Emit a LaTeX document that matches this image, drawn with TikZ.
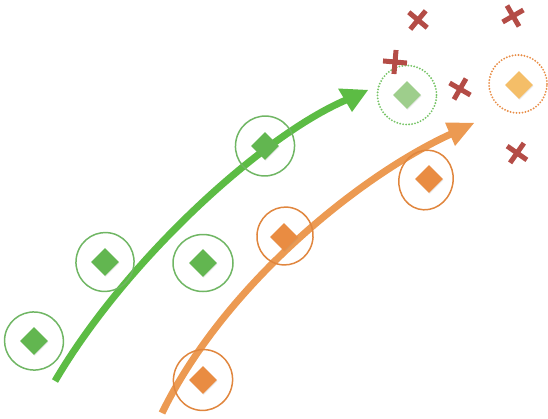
\documentclass[tikz,border=0pt]{standalone}
\usetikzlibrary{shapes.geometric,shadows}

\definecolor{grnArrow}{RGB}{92,188,68}
\definecolor{grnGem}{RGB}{98,182,80}
\definecolor{grnRing}{RGB}{112,182,100}
\definecolor{grnPale}{RGB}{158,206,140}
\definecolor{grnDots}{RGB}{120,196,104}
\definecolor{orgArrow}{RGB}{236,154,82}
\definecolor{orgGem}{RGB}{233,140,66}
\definecolor{orgRing}{RGB}{224,134,62}
\definecolor{orgPale}{RGB}{244,190,104}
\definecolor{orgDots}{RGB}{232,142,72}
\definecolor{redMark}{RGB}{180,76,70}

\begin{document}
\begin{tikzpicture}[x=1pt,y=-1pt,
  gem/.style={diamond,aspect=1,inner sep=0pt,minimum width=28pt,minimum height=28pt,
    drop shadow={shadow xshift=0.8pt,shadow yshift=-1pt,opacity=0.15}},
  ring/.style={ellipse,inner sep=0pt,line width=1.5pt},
  dotring/.style={ellipse,inner sep=0pt,line width=2.1pt,line cap=round,dash pattern=on 0pt off 3pt},
  shaft/.style={line width=7pt},
  xstroke/.style={draw=redMark,line width=5pt},
]
\useasboundingbox (0,0) rectangle (548,418);

% ---- arrows (shafts end at the base of the heads) ----
\coordinate (gS) at (55,381);
\coordinate (gB) at (346,100);
\coordinate (gT) at (368,90);
\coordinate (gL) at (338,88.5);
\coordinate (gR) at (352,112);
\draw[shaft,grnArrow] (gS) .. controls (126,260) and (262,136) .. (gB);
\fill[grnArrow] (gT) -- (gL) -- (gR) -- cycle;

\coordinate (oS) at (162,413);
\coordinate (oB) at (451,134);
\coordinate (oT) at (474,123);
\coordinate (oL) at (445,122.5);
\coordinate (oR) at (455,146);
\draw[shaft,orgArrow] (oS) .. controls (224,286) and (359,176) .. (oB);
\fill[orgArrow] (oT) -- (oL) -- (oR) -- cycle;

% ---- rings around the samples ----
\node[ring,draw=grnRing,minimum width=59pt,minimum height=58pt,rotate=-15] (gr1) at (34,341) {};
\node[ring,draw=grnRing,minimum width=58pt,minimum height=59pt,rotate=-15] (gr2) at (105,262) {};
\node[ring,draw=grnRing,minimum width=60pt,minimum height=57pt] (gr3) at (203,263) {};
\node[ring,draw=grnRing,minimum width=59pt,minimum height=60pt,rotate=-15] (gr4) at (265,146) {};
\node[ring,draw=orgRing,minimum width=59pt,minimum height=61pt,rotate=-15] (or1) at (203,380) {};
\node[ring,draw=orgRing,minimum width=56pt,minimum height=58pt,rotate=-15] (or2) at (285,236) {};
\node[ring,draw=orgRing,minimum width=54pt,minimum height=60pt,rotate=-15] (or3) at (426,180) {};
\node[dotring,draw=grnDots,minimum width=59pt,minimum height=59pt] (gp) at (407,95) {};
\node[dotring,draw=orgDots,minimum width=58pt,minimum height=58pt] (op) at (518,84) {};

% ---- samples ----
\node[gem,fill=grnGem] (g1) at (34,341) {};
\node[gem,fill=grnGem] (g2) at (105,262) {};
\node[gem,fill=grnGem] (g3) at (203,263) {};
\node[gem,fill=grnGem] (g4) at (265,146) {};
\node[gem,fill=orgGem] (o1) at (203,380) {};
\node[gem,fill=orgGem] (o2) at (284,237) {};
\node[gem,fill=orgGem] (o3) at (429,179) {};
\node[gem,fill=grnPale] (gq) at (407,95) {};
\node[gem,fill=orgPale] (oq) at (519,85) {};

% ---- crosses ----
\foreach \px/\py/\r in {418/20/5, 513/16/-15, 395/62/40, 460/89/15, 517/153/10}{
  \draw[xstroke,shift={(\px,\py)},rotate=\r] (-8.5,-8.5) -- (8.5,8.5) (-8.5,8.5) -- (8.5,-8.5);
}
\end{tikzpicture}
\end{document}
